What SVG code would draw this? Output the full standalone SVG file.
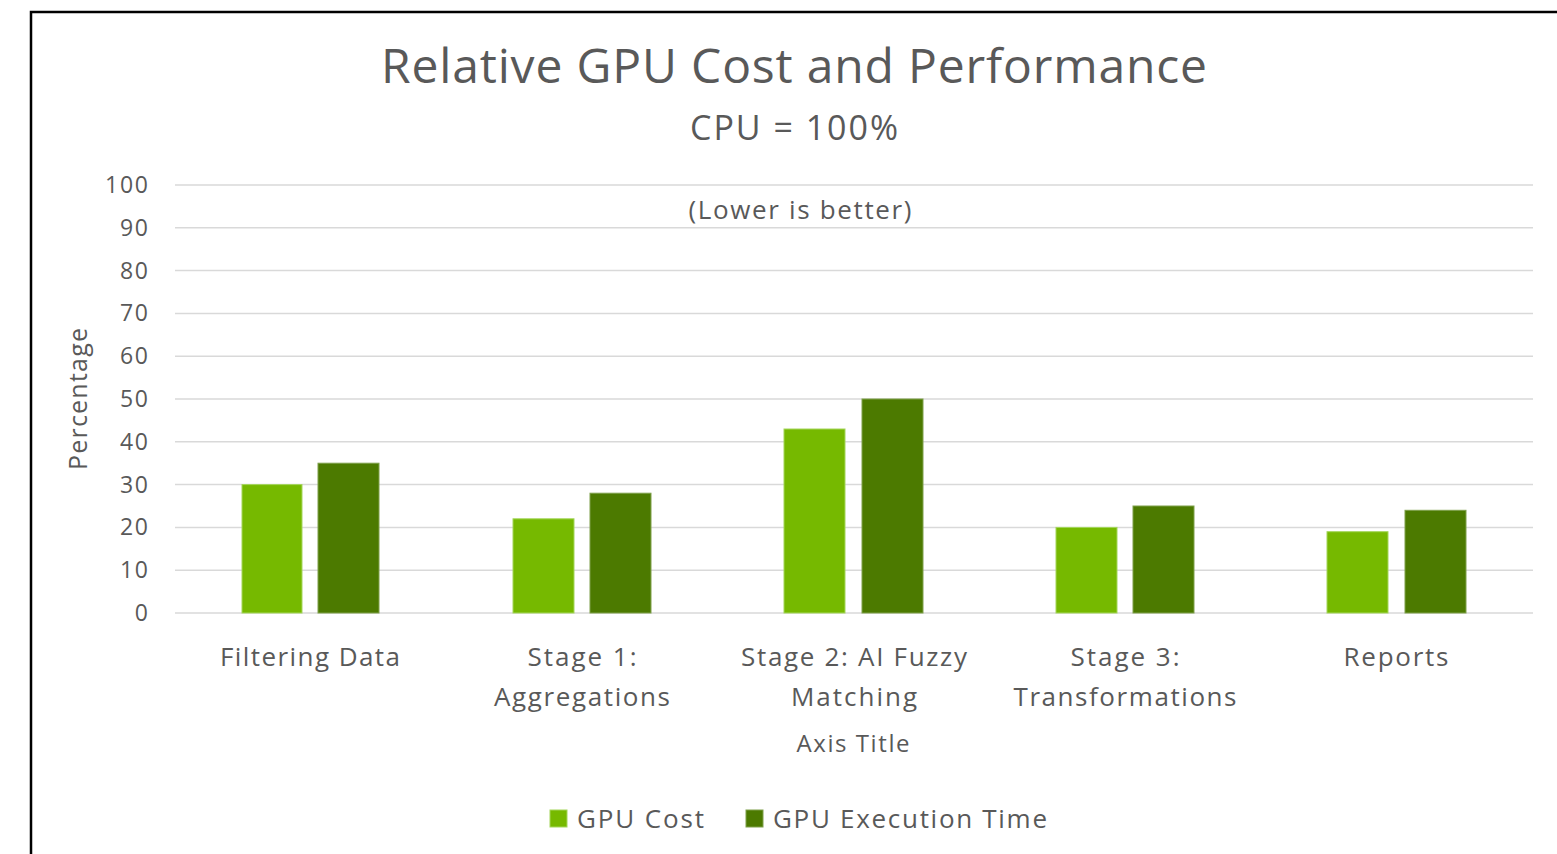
<svg xmlns="http://www.w3.org/2000/svg" width="1557" height="854" viewBox="0 0 1557 854">
<style>
text{font-family:"Open Sans","Liberation Sans",sans-serif;fill:#595959}
.tick{font-size:23px;text-anchor:end}
.cat{font-size:26px;text-anchor:middle}
.grid line{stroke:#d9d9d9;stroke-width:1.5}
.cost{fill:#76b900;stroke:#a4d65a;stroke-width:1}
.exec{fill:#4c7a00;stroke:#7ea04a;stroke-width:1}
</style>
<rect x="0" y="0" width="1557" height="854" fill="#fff"/>
<rect id="frame" x="31" y="12" width="1600" height="900" fill="none" stroke="#000" stroke-width="2.5"/>
<text id="title" x="794" y="83" font-size="48" text-anchor="middle" textLength="826">Relative GPU Cost and Performance</text>
<text id="subtitle" x="794" y="140" font-size="34" text-anchor="middle" textLength="208">CPU = 100%</text>
<text id="note" x="800" y="219" font-size="26" text-anchor="middle" textLength="223">(Lower is better)</text>
<g class="grid">
<line x1="175" y1="185" x2="1533" y2="185"/>
<line x1="175" y1="227.8" x2="1533" y2="227.8"/>
<line x1="175" y1="270.6" x2="1533" y2="270.6"/>
<line x1="175" y1="313.4" x2="1533" y2="313.4"/>
<line x1="175" y1="356.2" x2="1533" y2="356.2"/>
<line x1="175" y1="399" x2="1533" y2="399"/>
<line x1="175" y1="441.8" x2="1533" y2="441.8"/>
<line x1="175" y1="484.6" x2="1533" y2="484.6"/>
<line x1="175" y1="527.4" x2="1533" y2="527.4"/>
<line x1="175" y1="570.2" x2="1533" y2="570.2"/>
<line x1="175" y1="613" x2="1533" y2="613"/>
</g>
<g id="yticks">
<text class="tick" x="148" y="193" textLength="43">100</text>
<text class="tick" x="148" y="236" textLength="28">90</text>
<text class="tick" x="148" y="279" textLength="28">80</text>
<text class="tick" x="148" y="321" textLength="28">70</text>
<text class="tick" x="148" y="364" textLength="28">60</text>
<text class="tick" x="148" y="407" textLength="28">50</text>
<text class="tick" x="148" y="450" textLength="28">40</text>
<text class="tick" x="148" y="493" textLength="28">30</text>
<text class="tick" x="148" y="535" textLength="28">20</text>
<text class="tick" x="148" y="578" textLength="28">10</text>
<text class="tick" x="148" y="621">0</text>
</g>
<text id="ytitle" transform="translate(87,399) rotate(-90)" font-size="25" text-anchor="middle" textLength="142">Percentage</text>
<g id="bars">
<rect class="cost" x="242" y="484.6" width="60" height="128.4"/>
<rect class="exec" x="318" y="463.2" width="61" height="149.8"/>
<rect class="cost" x="513" y="518.8" width="61" height="94.2"/>
<rect class="exec" x="590" y="493.2" width="61" height="119.8"/>
<rect class="cost" x="784" y="429" width="61" height="184"/>
<rect class="exec" x="862" y="399" width="61" height="214"/>
<rect class="cost" x="1056" y="527.4" width="61" height="85.6"/>
<rect class="exec" x="1133" y="506" width="61" height="107"/>
<rect class="cost" x="1327" y="531.7" width="61" height="81.3"/>
<rect class="exec" x="1405" y="510.3" width="61" height="102.7"/>
</g>
<g id="categories">
<text class="cat" x="310" y="666" textLength="180">Filtering Data</text>
<text class="cat" x="582" y="666" textLength="109">Stage 1:</text>
<text class="cat" x="582" y="706" textLength="176">Aggregations</text>
<text class="cat" x="854" y="666" textLength="226">Stage 2: AI Fuzzy</text>
<text class="cat" x="854" y="706" textLength="126">Matching</text>
<text class="cat" x="1125" y="666" textLength="109">Stage 3:</text>
<text class="cat" x="1125" y="706" textLength="223">Transformations</text>
<text class="cat" x="1396" y="666" textLength="105">Reports</text>
</g>
<text id="xtitle" x="853" y="752" font-size="24" text-anchor="middle" textLength="113">Axis Title</text>
<g id="legend">
<rect class="cost" x="550" y="810" width="17" height="17"/>
<text x="577" y="828" font-size="26" textLength="127">GPU Cost</text>
<rect class="exec" x="746" y="810" width="17" height="17"/>
<text x="773" y="828" font-size="26" textLength="274">GPU Execution Time</text>
</g>
</svg>
